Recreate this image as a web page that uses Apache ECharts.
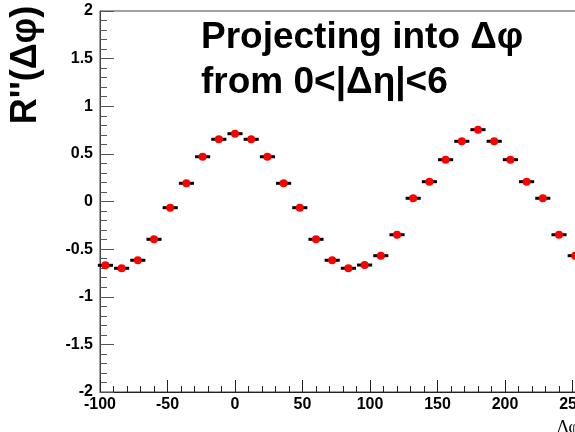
<!DOCTYPE html>
<html>
<head>
<meta charset="utf-8">
<script src="https://cdn.jsdelivr.net/npm/echarts@6/dist/echarts.min.js"></script>
<style>
html,body{margin:0;padding:0;background:#fff;}
#chart{width:575px;height:432px;}
</style>
</head>
<body>
<div id="chart"></div>
<script>
// Bin centres of Δφ (degrees)
const dphi = [-96, -84, -72, -60, -48, -36, -24, -12, 0, 12, 24, 36, 48, 60, 72,
              84, 96, 108, 120, 132, 144, 156, 168, 180, 192, 204, 216, 228, 240, 252];
// R''(Δφ) values
const rValues = [-0.670, -0.701, -0.617, -0.397, -0.065, 0.191, 0.470, 0.653, 0.712, 0.653,
                 0.470, 0.191, -0.065, -0.397, -0.617, -0.701, -0.667, -0.569, -0.349, 0.034,
                 0.208, 0.439, 0.632, 0.754, 0.632, 0.439, 0.208, 0.034, -0.349, -0.569];
const binHalfWidth = 6;
const xTickLabels = [-100, -50, 0, 50, 100, 150, 200, 250];
const titleLines = ['Projecting into Δφ', 'from 0<|Δη|<6'];
const yTitle = "R''(Δφ)";
const xTitle = 'Δφ (deg)';

const points = dphi.map((x, i) => [x, rValues[i]]);
const FONT = "'Liberation Sans', Arial, sans-serif";

const chart = echarts.init(document.getElementById('chart'), null, {renderer: 'canvas'});
chart.setOption({
  animation: false,
  backgroundColor: '#fff',
  grid: {left: 100, top: 11, bottom: 40, right: -11, outerBoundsMode: 'none', containLabel: false,
         show: true, borderColor: '#444', borderWidth: 1, backgroundColor: 'transparent'},
  xAxis: {
    type: 'value', min: -100, max: 260, interval: 50, position: 'bottom',
    axisLine: {show: true, onZero: false, lineStyle: {color: '#222', width: 1}},
    axisTick: {show: true, inside: true, length: 12, lineStyle: {color: '#222', width: 1}},
    minorTick: {show: true, splitNumber: 5, length: 6, lineStyle: {color: '#222', width: 1}},
    splitLine: {show: false},
    axisLabel: {
      margin: 5, color: '#000', fontFamily: FONT, fontWeight: 'bold', fontSize: 16,
      hideOverlap: false,
      formatter: v => (xTickLabels.indexOf(v) >= 0 ? String(v) : '')
    }
  },
  yAxis: {
    type: 'value', min: -2, max: 2, interval: 0.5, position: 'left',
    axisLine: {show: true, onZero: false, lineStyle: {color: '#444', width: 1}},
    axisTick: {show: true, inside: true, length: 14, lineStyle: {color: '#555', width: 1}},
    minorTick: {show: true, splitNumber: 5, length: 7, lineStyle: {color: '#555', width: 1}},
    splitLine: {show: false},
    axisLabel: {margin: 7, color: '#000', fontFamily: FONT, fontWeight: 'bold', fontSize: 16}
  },
  series: [
    {
      type: 'custom',
      data: points,
      renderItem: function (params, api) {
        const x = api.value(0), y = api.value(1);
        const p1 = api.coord([x - binHalfWidth + 0.4, y]);
        const p2 = api.coord([x + binHalfWidth - 0.4, y]);
        return {
          type: 'line',
          shape: {x1: p1[0], y1: p1[1], x2: p2[0], y2: p2[1]},
          style: {stroke: '#000', lineWidth: 3}
        };
      },
      z: 2
    },
    {
      type: 'scatter',
      data: points,
      symbol: 'circle',
      symbolSize: 8,
      itemStyle: {color: '#ff0000', opacity: 1},
      z: 3
    }
  ],
  graphic: [
    {type: 'text', left: 201, top: 19, style: {text: titleLines[0], font: "bold 37px 'Liberation Sans', Arial, sans-serif", fill: '#000'}},
    {type: 'text', left: 201, top: 64, style: {text: titleLines[1], font: "bold 37px 'Liberation Sans', Arial, sans-serif", fill: '#000'}},
    {type: 'text', x: 26, y: 65, rotation: Math.PI / 2,
     style: {text: yTitle, font: "bold 36px 'Liberation Sans', Arial, sans-serif", fill: '#000', align: 'center', verticalAlign: 'middle'}},
    {type: 'text', left: 557, top: 419, style: {text: xTitle, font: "18px 'Liberation Serif', 'Times New Roman', serif", fill: '#000'}}
  ]
});
</script>
</body>
</html>
